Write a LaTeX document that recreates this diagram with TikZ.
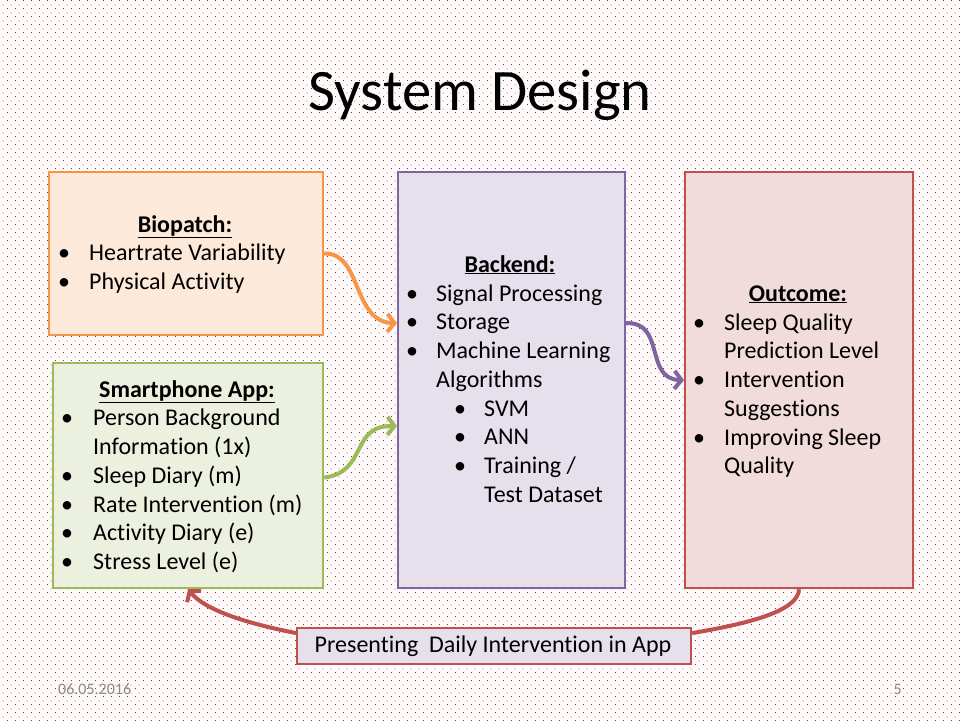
\documentclass[tikz,border=0pt]{standalone}
\usepackage{fontspec}
\setmainfont{Carlito}[Ligatures=NoCommon]
\usetikzlibrary{arrows.meta,patterns.meta}

\definecolor{slidebg}{HTML}{FEFAFA}
\definecolor{dotred}{HTML}{8A2A3A}
\definecolor{orangeline}{HTML}{F79646}
\definecolor{orangefill}{HTML}{FDE9D9}
\definecolor{greenline}{HTML}{9BBB59}
\definecolor{greenfill}{HTML}{EBF1DE}
\definecolor{purpleline}{HTML}{8064A2}
\definecolor{purplefill}{HTML}{E5E0EC}
\definecolor{redline}{HTML}{C0504D}
\definecolor{redfill}{HTML}{F2DCDB}
\definecolor{footgray}{HTML}{898989}

% small dotted slide texture
\tikzdeclarepattern{
  name=slidedots,
  type=uncolored,
  bounding box={(0pt,0pt) and (8pt,8pt)},
  tile size={(8pt,8pt)},
  code={
    \pgfpathrectangle{\pgfpoint{0pt}{0pt}}{\pgfpoint{0.9pt}{0.9pt}}
    \pgfpathrectangle{\pgfpoint{4pt}{4pt}}{\pgfpoint{0.9pt}{0.9pt}}
    \pgfusepath{fill}
  }
}

\tikzset{
  panel/.style={draw, line width=2.2pt, inner sep=0pt, anchor=north west},
  txt/.style={inner sep=0pt, font=\fontsize{24}{28}\selectfont, text=black},
  head/.style={txt, anchor=base},
  flow/.style={line width=4pt, -{Straight Barb[length=7pt,width=18pt]}},
  foot/.style={inner sep=0pt, font=\fontsize{16}{18}\selectfont, text=footgray}
}

% bullet item: name, bullet x, text x, baseline y, text
\newcommand\bulitem[5]{%
  \node[txt, anchor=base west] (#1b) at (#2,#4) {\textbullet};
  \node[txt, anchor=base west] (#1) at (#3,#4) {#5};}
% continuation line: name, text x, baseline y, text
\newcommand\contline[4]{%
  \node[txt, anchor=base west] (#1) at (#2,#3) {#4};}

\begin{document}
\begin{tikzpicture}[x=1pt, y=-1pt]
  \useasboundingbox (0,0) rectangle (960,720);
  \fill[slidebg] (0,0) rectangle (960,720);
  \fill[pattern=slidedots, pattern color=dotred] (0,0) rectangle (960,720);

  % title
  \node[inner sep=0pt, anchor=base, font=\fontsize{58.7}{62}\selectfont] (title) at (480,110) {System Design};

  % panels
  \node[panel, draw=orangeline, fill=orangefill, minimum width=274pt, minimum height=163pt] (bio) at (48,171) {};
  \node[panel, draw=greenline, fill=greenfill, minimum width=270pt, minimum height=225pt] (app) at (52,362) {};
  \node[panel, draw=purpleline, fill=purplefill, minimum width=227pt, minimum height=416pt] (back) at (397,171) {};
  \node[panel, draw=redline, fill=redfill, minimum width=228pt, minimum height=416pt] (out) at (684,171) {};
  \node[panel, draw=redline, fill=purplefill, minimum width=394pt, minimum height=36pt] (pres) at (296,627) {};

  % Biopatch
  \node[head] (bioh) at (185,232) {\underline{\textbf{Biopatch:}}};
  \bulitem{bioa}{58}{89}{260}{Heartrate Variability}
  \bulitem{biob}{58}{89}{289}{Physical Activity}

  % Smartphone App
  \node[head] (apph) at (187,397) {\underline{\textbf{Smartphone App:}}};
  \bulitem{appa}{61}{93}{425}{Person Background}
  \contline{appa2}{93}{454}{Information (1x)}
  \bulitem{appb}{61}{93}{483}{Sleep Diary (m)}
  \bulitem{appc}{61}{93}{512}{Rate Intervention (m)}
  \bulitem{appd}{61}{93}{540}{Activity Diary (e)}
  \bulitem{appe}{61}{93}{569}{Stress Level (e)}

  % Backend
  \node[head] (backh) at (510,272) {\underline{\textbf{Backend:}}};
  \bulitem{backa}{406}{436}{301}{Signal Processing}
  \bulitem{backb}{406}{436}{329}{Storage}
  \bulitem{backc}{406}{436}{358}{Machine Learning}
  \contline{backc2}{436}{387}{Algorithms}
  \bulitem{backd}{454}{484}{416}{SVM}
  \bulitem{backe}{454}{484}{444}{ANN}
  \bulitem{backf}{454}{484}{473}{Training /}
  \contline{backf2}{484}{502}{Test Dataset}

  % Outcome
  \node[head] (outh) at (798,301) {\underline{\textbf{Outcome:}}};
  \bulitem{outa}{693}{724}{330}{Sleep Quality}
  \contline{outa2}{724}{358}{Prediction Level}
  \bulitem{outb}{693}{724}{387}{Intervention}
  \contline{outb2}{724}{416}{Suggestions}
  \bulitem{outc}{693}{724}{445}{Improving Sleep}
  \contline{outc2}{724}{473}{Quality}

  % feedback box text
  \node[head] (prest) at (493,652) {Presenting\ \ Daily Intervention in App};

  % connectors
  \draw[flow, draw=orangeline] (bio.east) .. controls (362,252) and (352,322) .. ([yshift=57pt]back.west);
  \draw[flow, draw=greenline] ([yshift=-2pt]app.east) .. controls (368,472) and (350,425) .. ([yshift=-46pt]back.west);
  \draw[flow, draw=purpleline] ([yshift=57pt]back.east) .. controls (666,322) and (644,379) .. (out.west);
  \draw[line width=4pt, draw=redline] (out.south) .. controls (798,612) and (745,624) .. ([yshift=13pt]pres.east);
  \draw[flow, draw=redline] ([yshift=13pt]pres.west) .. controls (245,623) and (205,610) .. (app.south);

  % footer
  \node[foot, anchor=base west] (date) at (58,694) {06.05.2016};
  \node[foot, anchor=base east] (pageno) at (902,694) {5};
\end{tikzpicture}
\end{document}
